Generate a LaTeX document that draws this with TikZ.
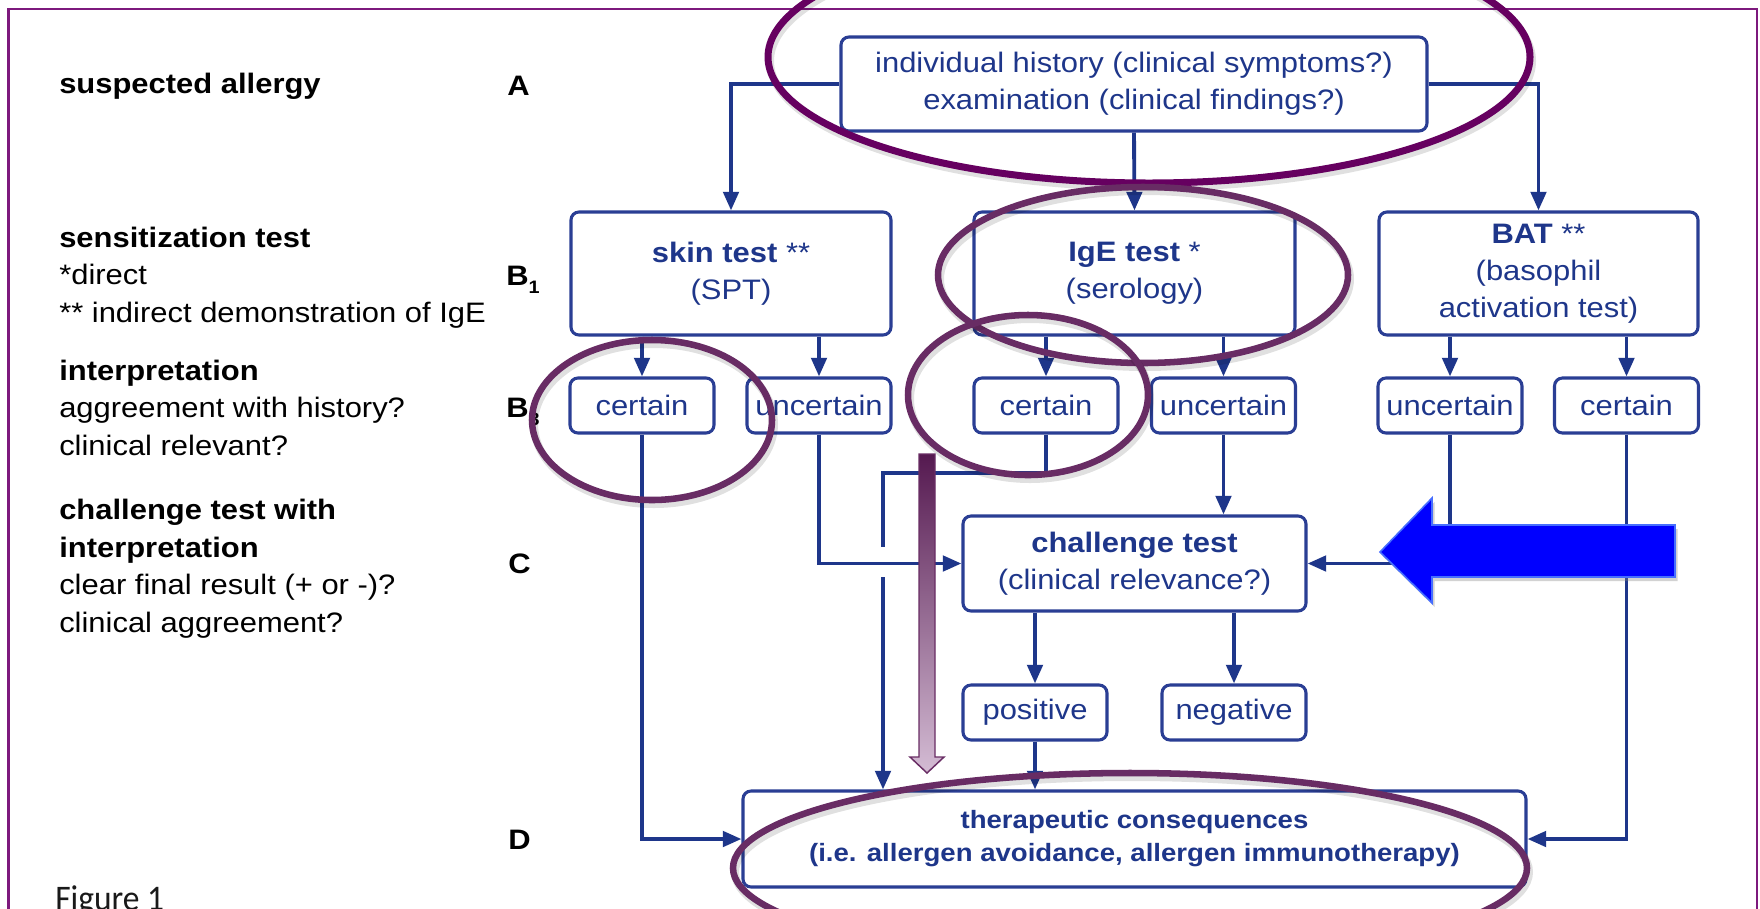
\documentclass[tikz,border=0pt]{standalone}
\usepackage{fontspec}
\setmainfont{Liberation Sans}[FakeStretch=1.1]
\newfontfamily\figfont{Carlito}[FakeStretch=0.93]
\usetikzlibrary{arrows.meta,shadows}
\definecolor{navy}{RGB}{30,54,138}
\definecolor{boxc}{RGB}{42,62,148}
\definecolor{ellA}{RGB}{102,0,96}
\definecolor{ellB}{RGB}{104,44,100}
\definecolor{framec}{RGB}{125,25,125}
\definecolor{bigblue}{RGB}{0,0,255}
\definecolor{blueedge}{RGB}{70,110,255}
\definecolor{pdark}{RGB}{85,25,80}
\definecolor{plight}{RGB}{212,188,212}
\definecolor{pedge}{RGB}{105,45,100}
\begin{document}
\begin{tikzpicture}[x=0.75pt,y=-0.75pt,
  ltxt/.style={anchor=base west, inner sep=0pt, text=black, font=\fontsize{21.1pt}{27.75pt}\selectfont},
  lhead/.style={anchor=base west, inner sep=0pt, text=black, font=\fontsize{21.1pt}{27.75pt}\selectfont\bfseries},
  box/.style={draw=boxc, line width=2.3pt, rounded corners=6pt, fill=white, text=navy, align=center, inner sep=0pt, font=\fontsize{21.1pt}{27.75pt}\selectfont},
  small/.style={box, minimum width=108pt, minimum height=41.25pt},
  conn/.style={draw=navy, line width=2.9pt, -{Triangle[length=14pt,width=11.5pt]}},
  plain/.style={draw=navy, line width=2.9pt},
  ell/.style={draw=ellB, line width=4.9pt},
  ellshadow/.style={draw=black, opacity=0.12, line width=6pt},
]
\useasboundingbox (0,0) rectangle (1760,908);
\clip (0,0) rectangle (1760,908);
\fill[white] (0,0) rectangle (1760,908);

% frame
\draw[framec, line width=1.6pt] (8.5,930) -- (8.5,9) -- (1757,9) -- (1757,930);

% left column
\node[lhead] (t1) at (59,93) {suspected allergy};
\node[lhead] (t2) at (59,247) {sensitization test};
\node[ltxt] (t3) at (59,284) {*direct};
\node[ltxt] (t4) at (59,322) {** indirect demonstration of IgE};
\node[lhead] (t5) at (59,380) {interpretation};
\node[ltxt] (t6) at (59,417) {aggreement with history?};
\node[ltxt] (t7) at (59,455) {clinical relevant?};
\node[lhead] (t8) at (59,519) {challenge test with};
\node[lhead] (t9) at (59,557) {interpretation};
\node[ltxt] (t10) at (59,594) {clear final result (+ or -)?};
\node[ltxt] (t11) at (59,632) {clinical aggreement?};
\node[anchor=base west, inner sep=0pt, text=black!90, font=\figfont\fontsize{27pt}{27pt}\selectfont] (fig) at (55,910) {Figure 1};

% level labels
\node[lhead] (LA) at (507,95) {A};
\node[lhead] (LB1) at (506,285) {B\raisebox{-6pt}{\fontsize{13.5pt}{13.5pt}\selectfont 1}};
\node[lhead] (LB3) at (506,417) {B\raisebox{-6pt}{\fontsize{13.5pt}{13.5pt}\selectfont 3}};
\node[lhead] (LC) at (508,573) {C};
\node[lhead] (LD) at (508,849) {D};

% boxes
\node[box, minimum width=439.5pt, minimum height=70.5pt] (hist) at (1134,84) {individual history (clinical symptoms?)\\examination (clinical findings?)};
\node[box, minimum width=240pt, minimum height=92.25pt] (skin) at (731,273.5) {{\bfseries skin test} **\\(SPT)};
\node[box, minimum width=240.75pt, minimum height=92.25pt] (ige) at (1134.5,273.5) {{\bfseries IgE test} *\\(serology)};
\node[box, minimum width=239.25pt, minimum height=92.25pt] (bat) at (1538.5,273.5) {{\bfseries BAT} **\\(basophil\\activation test)};
\node[small] (c1) at (642,405.5) {certain};
\node[small] (u1) at (819,405.5) {uncertain};
\node[small] (c2) at (1046,405.5) {certain};
\node[small] (u2) at (1223.5,405.5) {uncertain};
\node[small] (u3) at (1450,405.5) {uncertain};
\node[small] (c3) at (1626.5,405.5) {certain};
\node[box, minimum width=257.25pt, minimum height=71.25pt] (chal) at (1134.5,563.5) {{\bfseries challenge test}\\(clinical relevance?)};
\node[small] (pos) at (1035,712.5) {positive};
\node[small] (neg) at (1234,712.5) {negative};
\node[box, minimum width=587.25pt, minimum height=72pt, font=\fontsize{18.8pt}{24.75pt}\selectfont\bfseries] (ther) at (1134.5,839) {therapeutic consequences\\(i.e. allergen avoidance, allergen immunotherapy)};

% connectors
\draw[conn] (hist.west) -| (skin.north);
\draw[conn] (hist.east) -| (bat.north);
\draw[conn] (hist.south) -- (ige.north);
\draw[conn] (c1.north |- skin.south) -- (c1.north);
\draw[conn] (u1.north |- skin.south) -- (u1.north);
\draw[conn] (c2.north |- ige.south) -- (c2.north);
\draw[conn] (u2.north |- ige.south) -- (u2.north);
\draw[conn] (u3.north |- bat.south) -- (u3.north);
\draw[conn] (c3.north |- bat.south) -- (c3.north);
\draw[conn] (u1.south) |- (chal.west);
\draw[conn] (u2.south) -- (u2.south |- chal.north);
\draw[conn] (u3.south) |- (chal.east);
\draw[conn] (c1.south) |- (ther.west);
\draw[conn] (c3.south) |- (ther.east);
\coordinate (k1) at (883,473);
\coordinate (g1) at (883,547);
\coordinate (g2) at (883,577);
\draw[plain] (c2.south) |- (k1) -- (g1);
\draw[conn] (g2) -- (g2 |- ther.north);
\draw[conn] (pos.north |- chal.south) -- (pos.north);
\draw[conn] (neg.north |- chal.south) -- (neg.north);
\draw[conn] (pos.south) -- (pos.south |- ther.north);

% purple down arrow
\shadedraw[top color=pdark, bottom color=plight, draw=pedge, line width=1.1pt]
  (919,454) -- (935,454) -- (935,757) -- (944,757) -- (927,773) -- (910,757) -- (919,757) -- cycle;

% big blue arrow
\filldraw[fill=bigblue, draw=blueedge, line width=1.2pt,
  drop shadow={shadow xshift=2pt, shadow yshift=-3pt, opacity=0.35}]
  (1380,552) -- (1432,498) -- (1432,525) -- (1675,525) -- (1675,577) -- (1432,577) -- (1432,603) -- cycle;

% highlight ellipses
\draw[ellshadow] (1151,61) ellipse [x radius=285.75pt, y radius=94.5pt];
\draw[ell, draw=ellA, line width=5.25pt] (1149,57) ellipse [x radius=285.75pt, y radius=94.5pt];
\draw[ellshadow] (1145,279) ellipse [x radius=153.75pt, y radius=66pt];
\draw[ell] (1143,275) ellipse [x radius=153.75pt, y radius=66pt];
\draw[ellshadow] (654,424) ellipse [x radius=90pt, y radius=60pt];
\draw[ell] (652,420) ellipse [x radius=90pt, y radius=60pt];
\draw[ellshadow] (1030,399) ellipse [x radius=90pt, y radius=60pt];
\draw[ell] (1028,395) ellipse [x radius=90pt, y radius=60pt];
\draw[ellshadow] (1132,872) ellipse [x radius=297.75pt, y radius=71.25pt];
\draw[ell] (1130,868) ellipse [x radius=297.75pt, y radius=71.25pt];
\end{tikzpicture}
\end{document}
